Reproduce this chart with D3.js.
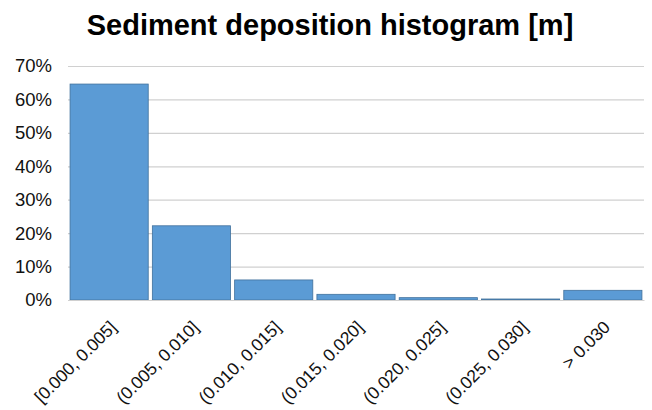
<!DOCTYPE html>
<html><head><meta charset="utf-8">
<script src="https://cdn.jsdelivr.net/npm/d3@7"></script>
<style>body{margin:0;background:#fff}svg{display:block}</style>
</head><body>
<svg id="c" width="652" height="410"></svg>
<script>
const categories = ["[0.000, 0.005]","(0.005, 0.010]","(0.010, 0.015]","(0.015, 0.020]","(0.020, 0.025]","(0.025, 0.030]","> 0.030"];
const values = [0.646, 0.222, 0.060, 0.017, 0.007, 0.003, 0.029];
const yTicks = [0, 0.1, 0.2, 0.3, 0.4, 0.5, 0.6, 0.7];
const title = "Sediment deposition histogram [m]";

const svg = d3.select("#c");
const m = {l: 68, r: 8, t: 66, b: 110};
const W = 652, H = 410;
const x = d3.scaleBand().domain(categories).range([m.l, W - m.r]).paddingInner(0.05).paddingOuter(0.025);
const y = d3.scaleLinear().domain([0, 0.7]).range([H - m.b, m.t]);

svg.append("text").attr("x", 330).attr("y", 35).attr("text-anchor", "middle")
  .attr("font-family", "Liberation Sans, Arial, sans-serif").attr("font-weight", "bold")
  .attr("font-size", 29).attr("fill", "#000").text(title);

const ya = svg.append("g").attr("transform", `translate(${m.l},0)`)
  .call(d3.axisLeft(y).tickValues(yTicks).tickFormat(d3.format(".0%")).tickSize(-(W - m.r - m.l)).tickPadding(16));
ya.select(".domain").remove();
ya.selectAll(".tick line").attr("stroke", "#d0d0d0").attr("stroke-width", 1.2);
ya.selectAll(".tick text").attr("font-family", "Liberation Sans, Arial, sans-serif").attr("font-size", 18.5).attr("fill", "#111");

svg.append("g").selectAll("rect").data(values).join("rect")
  .attr("x", (d, i) => x(categories[i])).attr("width", x.bandwidth())
  .attr("y", d => y(d)).attr("height", d => y(0) - y(d))
  .attr("fill", "#5b9bd5").attr("stroke", "#41719c").attr("stroke-width", 0.8);

const xa = svg.append("g").attr("transform", `translate(0,${y(0)})`)
  .call(d3.axisBottom(x).tickSize(0).tickPadding(0));
xa.select(".domain").attr("stroke", "#d0d0d0");
xa.selectAll(".tick text")
  .attr("font-family", "Liberation Sans, Arial, sans-serif").attr("font-size", 17.5).attr("fill", "#111")
  .attr("text-anchor", "end").attr("dy", "0.35em")
  .attr("transform", "translate(4,24) rotate(-45)");
</script>
</body></html>
